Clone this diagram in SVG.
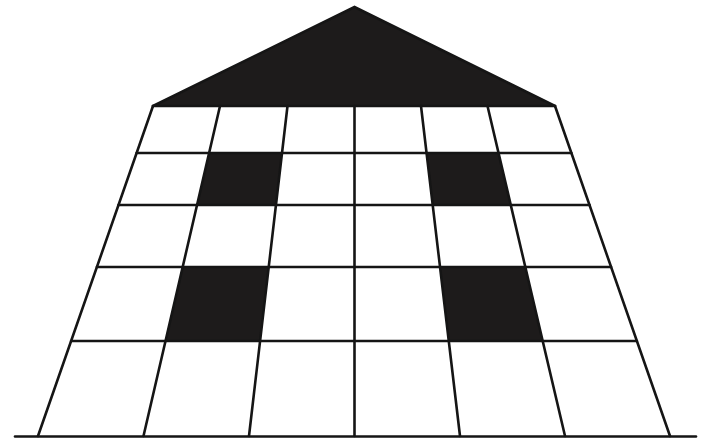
<svg xmlns="http://www.w3.org/2000/svg" width="704" height="442" viewBox="0 0 704 442">
  <style>
    .dark { fill: #1d1b1b; }
    .ln { stroke: #151515; stroke-width: 2.6; fill: none; stroke-linecap: round; }
  </style>
  <rect width="704" height="442" fill="#ffffff"/>
  <g id="roof">
    <polygon class="dark" points="354.5,7 153,106 555,106"/>
    <polyline class="ln" points="153,106 354.5,7 555,106" stroke-width="1.5"/>
  </g>
  <g id="shaded-cells">
    <polygon class="dark" points="209.1,153 282,153 275.95,205 197.05,205"/>
    <polygon class="dark" points="426.55,153 498.5,153 510.75,205 432.7,205"/>
    <polygon class="dark" points="182.68,267 268.72,267 260.08,341 165.53,341"/>
    <polygon class="dark" points="440.03,267 525.31,267 542.69,341 448.77,341"/>
  </g>
  <g id="grid">
    <line class="ln" x1="153" y1="106" x2="38" y2="436"/>
    <line class="ln" x1="220" y1="106" x2="143.5" y2="436"/>
    <line class="ln" x1="287.5" y1="106" x2="249" y2="436"/>
    <line class="ln" x1="354.5" y1="106" x2="354.5" y2="436"/>
    <line class="ln" x1="421" y1="106" x2="460" y2="436"/>
    <line class="ln" x1="487.5" y1="106" x2="565" y2="436"/>
    <line class="ln" x1="555" y1="106" x2="670" y2="436"/>
    <line class="ln" x1="153" y1="106" x2="555" y2="106"/>
    <line class="ln" x1="136.6" y1="153" x2="571.4" y2="153"/>
    <line class="ln" x1="118.5" y1="205" x2="589.5" y2="205"/>
    <line class="ln" x1="96.9" y1="267" x2="611.1" y2="267"/>
    <line class="ln" x1="71.1" y1="341" x2="636.9" y2="341"/>
  </g>
  <g id="ground">
    <line class="ln" x1="15" y1="436.5" x2="696" y2="436.5"/>
  </g>
</svg>
